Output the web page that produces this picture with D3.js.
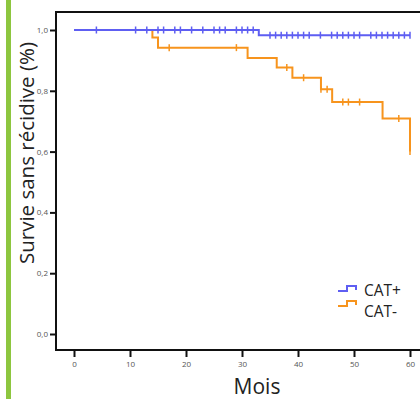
<!DOCTYPE html>
<html>
<head>
<meta charset="utf-8">
<script src="https://cdn.jsdelivr.net/npm/d3@7"></script>
<style>
  body { margin: 0; background: #fff; }
  svg { display: block; font-family: "Open Sans", "Noto Sans", sans-serif; }
</style>
</head>
<body>
<svg id="chart" width="420" height="399"></svg>
<script>
// Kaplan-Meier curves, values
var xTicks = [0, 10, 20, 30, 40, 50, 60];
var yTicks = [0, 0.2, 0.4, 0.6, 0.8, 1.0];

// CAT+ (blue)
var catPlusTimes = [0, 33, 60];
var catPlusSurv = [1.0, 0.983, 0.983];
var catPlusCensor = [4, 11, 13, 15, 16, 18, 19, 21, 23, 25, 26, 27, 29, 30, 31, 32,
    35, 36, 37, 38, 39, 40, 41, 42, 44, 46, 47, 48, 49, 50, 51, 53, 54, 55, 56, 57, 58, 59, 60];

// CAT- (orange)
var catMinusTimes = [0, 14, 15, 31, 36.2, 39, 44.1, 46.1, 55.1, 60];
var catMinusSurv = [1.0, 0.975, 0.942, 0.908, 0.877, 0.843, 0.805, 0.763, 0.709, 0.60];
var catMinusCensor = [17, 29, 38, 41, 44.1, 45.2, 48, 49, 51, 58, 60];

var blue = "#5e5ef2", orange = "#f7941d";

var svg = d3.select("#chart");

// green bar on the left
svg.append("rect").attr("x", 6).attr("y", 0).attr("width", 5).attr("height", 399)
    .attr("fill", "#8dc63f");

var x = d3.scaleLinear().domain([0, 60]).range([74, 410]);
var y = d3.scaleLinear().domain([0, 1]).range([334, 30]);

// frame
svg.append("path")
    .attr("d", "M420,12H56V350H420")
    .attr("fill", "none").attr("stroke", "#111").attr("stroke-width", 2);

var yAxis = svg.append("g").attr("transform", "translate(56,0)")
    .call(d3.axisLeft(y).tickValues(yTicks).tickSize(6).tickPadding(2)
        .tickFormat(function (d) { return d3.format(".1f")(d).replace(".", ","); }));
var xAxis = svg.append("g").attr("transform", "translate(0,350)")
    .call(d3.axisBottom(x).tickValues(xTicks).tickSize(7).tickPadding(4));

[yAxis, xAxis].forEach(function (a) {
    a.select(".domain").remove();
    a.selectAll(".tick line").attr("stroke", "#111").attr("stroke-width", 2);
    a.selectAll(".tick text").attr("fill", "#555").style("font-size", "8px")
        .style("font-family", "'Open Sans', sans-serif");
});

function curve(times, surv, censor, color) {
    var pts = times.map(function (t, i) { return [t, surv[i]]; });
    var line = d3.line().curve(d3.curveStepAfter)
        .x(function (d) { return x(d[0]); })
        .y(function (d) { return y(d[1]); });
    svg.append("path").datum(pts).attr("d", line)
        .attr("fill", "none").attr("stroke", color).attr("stroke-width", 2);

    function survAt(t) {
        var s = surv[0];
        for (var i = 0; i < times.length; i++) if (times[i] <= t) s = surv[i];
        return s;
    }
    svg.append("g").selectAll("line").data(censor).enter().append("line")
        .attr("x1", function (d) { return x(d); })
        .attr("x2", function (d) { return x(d); })
        .attr("y1", function (d) { return y(survAt(d)) - 3.5; })
        .attr("y2", function (d) { return y(survAt(d)) + 3.5; })
        .attr("stroke", color).attr("stroke-width", 1.5);
}

curve(catMinusTimes, catMinusSurv, catMinusCensor, orange);
curve(catPlusTimes, catPlusSurv, catPlusCensor, blue);

// legend
var legend = [{ name: "CAT+", color: blue }, { name: "CAT-", color: orange }];
var lg = svg.append("g").selectAll("g").data(legend).enter().append("g");
lg.append("path")
    .attr("d", function (d, i) { var y0 = 291 + i * 15; return "M338," + y0 + "H347V" + (y0 - 5) + "H356V" + (y0 - 1); })
    .attr("fill", "none").attr("stroke", function (d) { return d.color; }).attr("stroke-width", 2);
lg.append("text").attr("x", 364).attr("y", function (d, i) { return 296 + i * 20.5; })
    .style("font-size", "15.5px").attr("fill", "#222")
    .text(function (d) { return d.name; });

// axis titles
svg.append("text")
    .attr("transform", "translate(34,153) rotate(-90)")
    .attr("text-anchor", "middle").style("font-size", "20.5px").attr("fill", "#222")
    .text("Survie sans récidive (%)");
svg.append("text")
    .attr("x", 257).attr("y", 394).attr("text-anchor", "middle")
    .style("font-size", "21px").attr("fill", "#222")
    .text("Mois");
</script>
</body>
</html>
